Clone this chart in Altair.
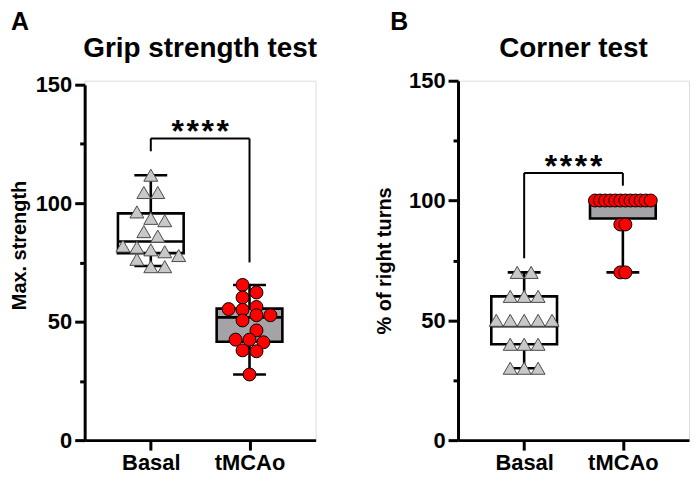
import altair as alt
import pandas as pd

# ---------------- data ----------------
groups = ["Basal", "tMCAo"]

grip_basal = [111.8, 104.5, 104.5, 96.3, 93.6, 92.6, 88.0, 86.1,
              81.9, 81.4, 80.3, 79.5, 77.9, 76.3, 73.2, 73.2]
grip_tmcao = [65.5, 62.3, 60.2, 56.2, 55.3, 55.0, 52.7, 52.7,
              50.5, 46.3, 42.4, 42.4, 41.3, 37.9, 37.5, 27.7]
corner_basal = [70, 70, 60, 60, 60, 50, 50, 50,
                50, 50, 40, 40, 40, 30, 30, 30]
corner_tmcao = [100, 100, 100, 100, 100, 100, 100, 100,
                100, 100, 100, 100, 90, 90, 70, 70]

# box plot summaries (Basal, tMCAo) as drawn
grip_min = [73.5, 27.7]
grip_q1 = [78.9, 41.5]
grip_median = [83.8, 51.8]
grip_q3 = [95.7, 55.5]
grip_max = [111.8, 65.5]

corner_min = [30, 70]
corner_q1 = [40, 92.5]
corner_median = [47.5, 100]
corner_q3 = [60, 100]
corner_max = [70, 100]

# significance bracket: top, left end, right end (data units)
grip_sig = [127.3, 121.9, 75.0]
corner_sig = [111.5, 75.9, 106.2]
sig_label = "*\u200a*\u200a*\u200a*"

y_ticks = [0, 25, 50, 75, 100, 125, 150]

# ---------------- style / layout ----------------
FONT = "Liberation Sans"
PLOT_W = 232
PLOT_H = 361
TOP_EXTENT = 71
X_DOMAIN = [0.33, 2.67]
STEP_PX = PLOT_W / (X_DOMAIN[1] - X_DOMAIN[0])
BOX_HALF = 33 / STEP_PX
CAP_HALF = 16.5 / STEP_PX
LW = 2.6


def swarm_offsets(values, px_per_unit, d=14.0, max_span=56.0, row_frac=0.75):
    n = len(values)
    order = sorted(range(n), key=lambda i: -values[i])
    rows = []
    for i in order:
        if rows and (values[rows[-1][0]] - values[i]) * px_per_unit <= row_frac * d:
            rows[-1].append(i)
        else:
            rows.append([i])
    widest = max(len(r) for r in rows)
    step = d if widest <= 1 else min(d, max_span / (widest - 1))
    offs = [0.0] * n
    for r in rows:
        k = len(r)
        for j, i in enumerate(r):
            offs[i] = (j - (k - 1) / 2) * step
    return offs


label_expr = " : ".join(
    [f"datum.value == {i + 1} ? '{g}'" for i, g in enumerate(groups[:-1])] + [f"'{groups[-1]}'"]
)


def panel(letter, title, ytitle, vb, vt, mins, q1s, meds, q3s, maxs, sig, y_top,
          title_pad, letter_x, title_y=None):
    ppu = (PLOT_H - y_top) / 150.0
    x_scale = alt.Scale(domain=X_DOMAIN, nice=False, zero=False)
    y_scale = alt.Scale(domain=[0, 150], range=[PLOT_H, y_top], nice=False)
    x_axis = alt.Axis(values=[1, 2], labelExpr=label_expr, title=None, grid=False,
                      domainColor="black", domainWidth=3, tickColor="black", tickWidth=3,
                      tickSize=10, labelPadding=3, labelFont=FONT, labelFontSize=22,
                      labelFontWeight="bold", labelColor="black")
    ykw = dict(values=y_ticks, labelExpr="datum.value % 50 === 0 ? datum.label : ''",
               title=ytitle, grid=False, domainColor="black", domainWidth=3,
               tickColor="black", tickWidth=3,
               tickSize={"condition": {"test": "datum.value % 50 !== 0", "value": 5}, "value": 10},
               labelPadding=3, labelFont=FONT, labelFontSize=22, labelFontWeight="bold",
               labelColor="black", titleFont=FONT, titleFontSize=20, titleFontWeight="bold",
               titleColor="black", titlePadding=title_pad)
    if title_y is not None:
        ykw["titleY"] = title_y
    y_axis = alt.Axis(**ykw)

    def X(f):
        return alt.X(f, type="quantitative", scale=x_scale, axis=x_axis)

    def Y(f):
        return alt.Y(f, type="quantitative", scale=y_scale, axis=y_axis)

    box = pd.DataFrame({
        "g": [1, 2],
        "xl": [1 - BOX_HALF, 2 - BOX_HALF],
        "xr": [1 + BOX_HALF, 2 + BOX_HALF],
        "cl": [1 - CAP_HALF, 2 - CAP_HALF],
        "cr": [1 + CAP_HALF, 2 + CAP_HALF],
        "mn": mins, "q1": q1s, "md": meds, "q3": q3s, "mx": maxs,
        "fill": ["white", "#a3a3a8"],
    })
    caps = pd.DataFrame({
        "cl": list(box["cl"]) * 2, "cr": list(box["cr"]) * 2,
        "v": list(mins) + list(maxs),
    })

    whisk = alt.Chart(box).mark_rule(color="black", strokeWidth=LW).encode(
        x=X("g"), y=Y("mn"), y2="mx")
    cap = alt.Chart(caps).mark_rule(color="black", strokeWidth=LW).encode(
        x=X("cl"), x2="cr", y=Y("v"))
    rect = alt.Chart(box).mark_rect(stroke="black", strokeWidth=LW).encode(
        x=X("xl"), x2="xr", y=Y("q1"), y2="q3",
        fill=alt.Fill("fill:N", scale=None))
    med = alt.Chart(box).mark_rule(color="black", strokeWidth=LW).encode(
        x=X("xl"), x2="xr", y=Y("md"))

    ob = swarm_offsets(vb, ppu)
    ot = swarm_offsets(vt, ppu)
    pb = pd.DataFrame({"x": [1 + o / STEP_PX for o in ob], "v": vb})
    pt = pd.DataFrame({"x": [2 + o / STEP_PX for o in ot], "v": vt})
    tri = alt.Chart(pb).mark_point(shape="triangle-up", filled=True, fill="#c8c8c8",
                                   stroke="#4a4a4a", strokeWidth=1, size=196, opacity=1).encode(
        x=X("x"), y=Y("v"))
    cir = alt.Chart(pt).mark_point(shape="circle", filled=True, fill="#ff0000",
                                   stroke="black", strokeWidth=1, size=169, opacity=1).encode(
        x=X("x"), y=Y("v"))

    br = pd.DataFrame({
        "x1": [1, 1, 2], "x2": [1, 2, 2],
        "y1": [sig[1], sig[0], sig[0]], "y2": [sig[0], sig[0], sig[2]],
    })
    bracket = alt.Chart(br).mark_rule(color="black", strokeWidth=2).encode(
        x=X("x1"), x2="x2", y=Y("y1"), y2="y2")
    stars = alt.Chart(pd.DataFrame({"x": [1.5], "y": [sig[0]], "t": [sig_label]})).mark_text(
        font=FONT, fontSize=32, fontWeight="bold", baseline="alphabetic", dy=4, color="black"
    ).encode(x=X("x"), y=Y("y"), text="t:N")

    ttl = alt.Chart(pd.DataFrame({"t": [title]})).mark_text(
        font=FONT, fontSize=28, fontWeight="bold", baseline="alphabetic", align="center", color="black"
    ).encode(x=alt.value(PLOT_W / 2), y=alt.value(-24), text="t:N")
    let = alt.Chart(pd.DataFrame({"t": [letter]})).mark_text(
        font=FONT, fontSize=25, fontWeight="bold", baseline="top", align="left", color="black"
    ).encode(x=alt.value(letter_x), y=alt.value(-TOP_EXTENT), text="t:N")

    return alt.layer(whisk, cap, rect, med, tri, cir, bracket, stars, ttl, let).properties(
        width=PLOT_W, height=PLOT_H)


A = panel("A", "Grip strength test", "Max. strength", grip_basal, grip_tmcao,
          grip_min, grip_q1, grip_median, grip_q3, grip_max, grip_sig, 4,
          title_pad=6, letter_x=-74, title_y=165)
B = panel("B", "Corner test", "% of right turns", corner_basal, corner_tmcao,
          corner_min, corner_q1, corner_median, corner_q3, corner_max, corner_sig, 0,
          title_pad=14, letter_x=-68)

chart = alt.hconcat(A, B, spacing=56).properties(padding=0).configure_view(
    stroke=None).configure(font=FONT, background="white")

chart.save("out.html", embed_options={"renderer": "svg", "actions": False})
